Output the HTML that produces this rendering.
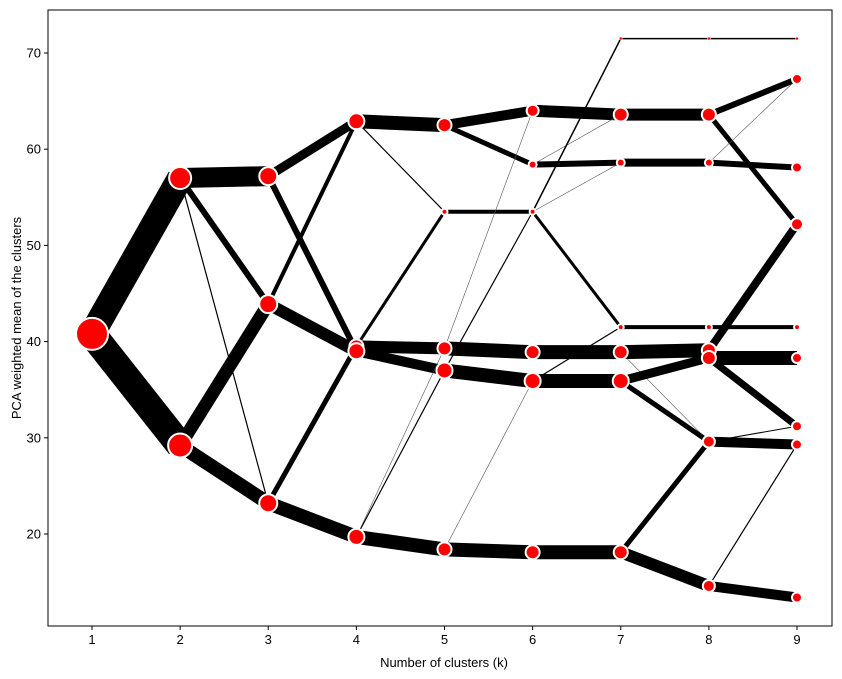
<!DOCTYPE html>
<html><head><meta charset="utf-8"><style>
body{margin:0;background:#fff}
svg{display:block;font-family:"Liberation Sans","DejaVu Sans",sans-serif}
</style></head><body>
<svg id="chart" width="842" height="679" xmlns="http://www.w3.org/2000/svg">
<rect x="0" y="0" width="842" height="679" fill="#fff"/>
<g id="edges"></g>
<g id="nodes"></g>
<rect x="48" y="10" width="784" height="616" fill="none" stroke="#000" stroke-width="1"/>
<g id="xticks"></g>
<g id="yticks"></g>
<text x="444" y="667" font-size="13" text-anchor="middle">Number of clusters (k)</text>
<text x="21" y="318" font-size="13" text-anchor="middle" transform="rotate(-90 21 318)">PCA weighted mean of the clusters</text>
</svg>
<script>
const xTicks=[1,2,3,4,5,6,7,8,9];
const yTicks=[20,30,40,50,60,70];
// nodes
const nodeK=[1,2,2,3,3,3,4,4,4,4,5,5,5,5,5,6,6,6,6,6,6,7,7,7,7,7,7,7,8,8,8,8,8,8,8,8,9,9,9,9,9,9,9,9,9];
const nodeVal=[40.8,57.0,29.2,57.2,43.9,23.2,62.9,39.5,39.0,19.7,62.5,53.5,39.3,37.0,18.4,64.0,58.4,53.5,38.9,35.9,18.1,71.5,63.6,58.6,41.5,38.9,35.9,18.1,71.5,63.6,58.6,41.5,39.1,38.3,29.6,14.6,71.5,67.3,58.1,52.2,41.5,38.3,31.2,29.3,13.4];
const nodeSize=[16,11,12,9,9,9,8,7,8,8,7,3,7,8,7,6,4,3,7,8,7,1.5,7,4,3,7,8,7,1.5,7,4,3,7,7,6,6,1.5,5,5,6,3,5,5,5,5];
// edges
const edgeK=[1,1, 2,2,2,2,2, 3,3,3,3,3,3, 4,4,4,4,4,4,4,4, 5,5,5,5,5,5,5,5,5, 6,6,6,6,6,6,6,6,6,6, 7,7,7,7,7,7,7,7,7,7, 8,8,8,8,8,8,8,8,8,8,8,8,8];
const edgeFrom=[40.8,40.8, 57.0,57.0,57.0,29.2,29.2, 57.2,57.2,43.9,43.9,23.2,23.2, 62.9,62.9,39.5,39.5,39.0,19.7,19.7,19.7, 62.5,62.5,53.5,39.3,39.3,37.0,37.0,18.4,18.4, 64.0,58.4,58.4,53.5,53.5,53.5,38.9,35.9,35.9,18.1, 71.5,63.6,58.6,41.5,38.9,38.9,35.9,35.9,18.1,18.1, 71.5,63.6,63.6,58.6,58.6,41.5,39.1,38.3,38.3,29.6,29.6,14.6,14.6];
const edgeTo=[57.0,29.2, 57.2,43.9,23.2,43.9,23.2, 62.9,39.0,62.9,39.0,39.5,19.7, 62.5,53.5,53.5,39.3,37.0,18.4,37.0,39.3, 64.0,58.4,53.5,38.9,64.0,35.9,53.5,18.1,35.9, 63.6,63.6,58.6,71.5,41.5,58.6,38.9,35.9,41.5,18.1, 71.5,63.6,58.6,41.5,39.1,29.6,38.3,29.6,29.6,14.6, 71.5,67.3,52.2,58.1,67.3,41.5,52.2,38.3,31.2,31.2,29.3,29.3,13.4];
const edgeWidth=[26,28, 20,6,1.2,13,14, 9,6,4,12,5,14, 14,1.2,3,12,10,14,1.2,0.6, 10,5,4,14,0.6,14,1.2,14,0.6, 12,0.6,6,1.5,3,0.6,14,14,1.2,14, 1.5,12,8,4,14,0.6,9,5,5,12, 1.5,6,5,6,0.6,4,8,14,7,1,10,1.2,10];

const X0=48,X1=832,Y0=10,Y1=626;
function xs(k){return 92+(k-1)*88.125;}
function ys(v){return 726.4-9.62*v;}
const NS="http://www.w3.org/2000/svg";
function mk(tag,attrs,parent){const e=document.createElementNS(NS,tag);for(const a in attrs)e.setAttribute(a,attrs[a]);parent.appendChild(e);return e;}

const gE=document.getElementById('edges');
for(let i=0;i<edgeK.length;i++){
  const l=mk('line',{x1:xs(edgeK[i]),y1:ys(edgeFrom[i]),x2:xs(edgeK[i]+1),y2:ys(edgeTo[i]),stroke:edgeWidth[i]<1?'#555':'#000','stroke-width':edgeWidth[i]},gE);
  
  
}
const gN=document.getElementById('nodes');
for(let i=0;i<nodeK.length;i++){
  const r=nodeSize[i];
  const c=mk('circle',{cx:xs(nodeK[i]),cy:ys(nodeVal[i]),r:r,fill:'#ff0000',stroke:'#fff','stroke-width':r<2?0.5:2},gN);
  
  
}
const gX=document.getElementById('xticks');
for(const t of xTicks){
  const x=xs(t);
  const l=mk('line',{x1:x,y1:Y1,x2:x,y2:Y1+4,stroke:'#000','stroke-width':1},gX);
  
  
  const tx=mk('text',{x:x,y:Y1+18,'font-size':13,'text-anchor':'middle'},gX);
  tx.textContent=t;
  
  
}
const gY=document.getElementById('yticks');
for(const t of yTicks){
  const y=ys(t);
  const l=mk('line',{x1:X0-4,y1:y,x2:X0,y2:y,stroke:'#000','stroke-width':1},gY);
  
  
  const tx=mk('text',{x:X0-7,y:y+4.5,'font-size':13,'text-anchor':'end'},gY);
  tx.textContent=t;
  
  
}
</script>
</body></html>
